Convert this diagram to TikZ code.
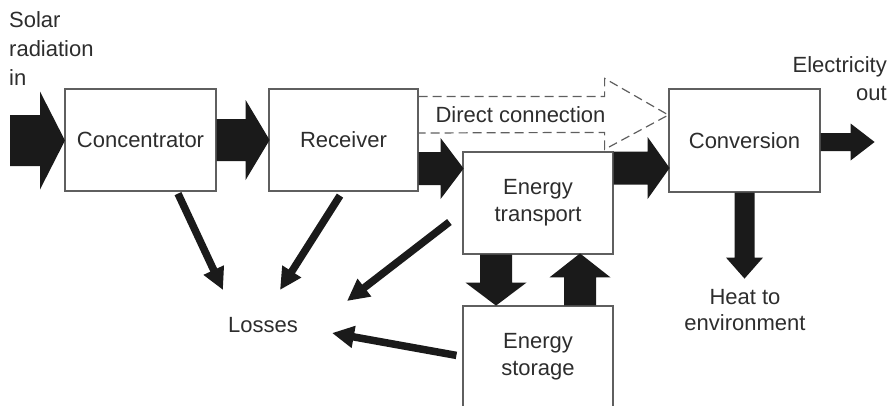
\documentclass[tikz,border=0pt]{standalone}
\usepackage{fontspec}
\setmainfont{Liberation Sans}
\usetikzlibrary{calc,arrows.meta}
\definecolor{txt}{RGB}{45,45,45}
\definecolor{blk}{RGB}{26,26,26}
\definecolor{edge}{RGB}{95,95,95}
% horizontal block arrow: start, length, shaft half, head half, head length
\newcommand\harrow[5]{\fill[blk] #1 ++(0,{-(#3)}) -- ++({(#2)-(#5)},0) -- ++(0,{-((#4)-(#3))}) -- ++(#5,#4) -- ++({-(#5)},#4) -- ++(0,{-((#4)-(#3))}) -- ++({-((#2)-(#5))},0) -- cycle;}
% vertical block arrow: start, length (down positive), shaft half, head half, head length
\newcommand\varrow[5]{\fill[blk] #1 ++({-(#3)},0) -- ++(0,{(#2)-(#5)}) -- ++({-((#4)-(#3))},0) -- ++(#4,#5) -- ++(#4,{-(#5)}) -- ++({-((#4)-(#3))},0) -- ++(0,{-((#2)-(#5))}) -- cycle;}
\tikzset{
  every node/.style={font=\fontsize{22}{27}\selectfont, text=txt},
  box/.style={draw=edge, line width=1.2pt, fill=white, inner sep=0pt, align=center},
  lbl/.style={inner sep=0pt},
  lossarrow/.style={draw=blk, line width=7.5pt, -{Triangle[length=22pt,width=21pt]}},
  dasharrow/.style={draw=edge, line width=1.2pt, dash pattern=on 9pt off 5pt}
}
\begin{document}
\begin{tikzpicture}[x=1pt,y=-1pt]
\useasboundingbox (0,0) rectangle (891,405);
% boxes
\node[box, minimum width=151pt, minimum height=102pt] (conc) at (140.5,140) {Concentrator};
\node[box, minimum width=149pt, minimum height=102pt] (rec) at (343.5,140) {Receiver};
\node[box, minimum width=151pt, minimum height=103pt] (conv) at (744.5,140.5) {Conversion};
\node[box, minimum width=150pt, minimum height=102pt] (trans) at (538,203) {Energy\\transport};
\node[box, minimum width=150pt, minimum height=110pt] (stor) at (538,361) {};
\node[lbl, align=center] (storlbl) at (538,357) {Energy\\storage};
% labels
\node[lbl, align=left, anchor=west, font=\fontsize{22}{29}\selectfont] (solar) at (9,49) {Solar\\radiation\\in};
\node[lbl, align=right, anchor=east, font=\fontsize{22}{28}\selectfont] (elec) at (887,79) {Electricity\\out};
\node[lbl] (losses) at (263,325) {Losses};
\node[lbl, align=center, font=\fontsize{22}{26}\selectfont] (heat) at (745,310) {Heat to\\environment};
\node[lbl] (direct) at (520.5,115) {Direct connection};
\coordinate (solarin) at (10,140.5);
% dashed direct connection arrow
\draw[dasharrow] ($(rec.north east)+(0,8)$) -- ++(186,0) -- ++(0,-18)
  -- ($(conv.west)+(0,-25.5)$) -- ($(trans.north east)+(-9,-2)$) -- ++(0,-17)
  -- ($(rec.east)+(0,-7)$);
% block arrows
\harrow{(solarin)}{55}{25.5}{49}{25}
\harrow{(conc.east)}{53}{21}{40}{24}
\harrow{($(rec.east)+(0,28.5)$)}{45}{16.5}{30.5}{23}
\harrow{($(trans.east)+(0,-35)$)}{56}{16.5}{31}{22}
\harrow{($(conv.east)+(0,1.5)$)}{54}{9}{18.5}{24}
\varrow{(conv.south)}{86}{10}{18.5}{21}
\varrow{($(trans.south)+(-42,0)$)}{51}{16}{30.5}{23}
\varrow{($(stor.north)+(42,0)$)}{-52}{16}{30.5}{-24}
% losses arrows
\draw[lossarrow] ($(conc.south)+(37.5,2)$) -- ($(losses)+(-40,-35)$);
\draw[lossarrow] ($(rec.south)+(-3.5,4)$) -- ($(losses)+(17,-35)$);
\draw[lossarrow] ($(trans.west)+(-13,19)$) -- ($(losses)+(84,-24)$);
\draw[lossarrow] ($(stor.north west)+(-6,50)$) -- ($(losses)+(69,8)$);
\end{tikzpicture}
\end{document}
